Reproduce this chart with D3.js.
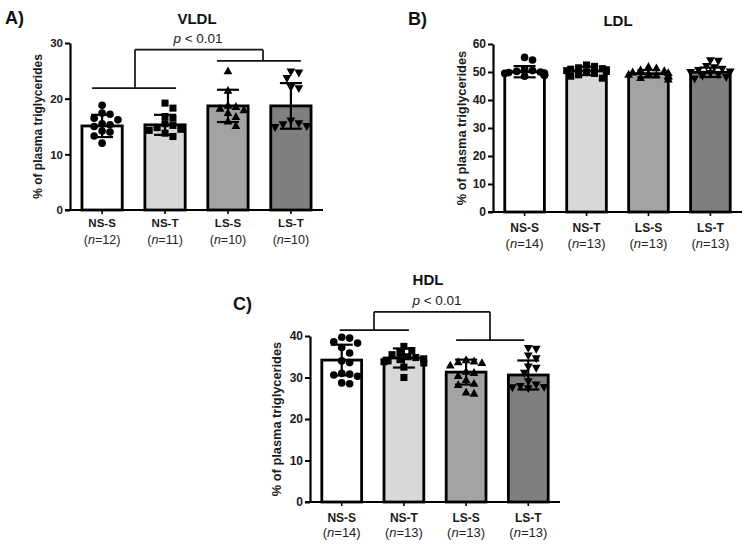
<!DOCTYPE html>
<html>
<head>
<meta charset="utf-8">
<script src="https://cdn.jsdelivr.net/npm/d3@7"></script>
<style>
  html, body { margin: 0; padding: 0; background: #fff; }
  svg { display: block; font-family: "Liberation Sans", Arial, sans-serif; }
</style>
</head>
<body>
<svg id="chart" width="754" height="551"></svg>
<script>
// ---------------- DATA ----------------
const categories = ["NS-S", "NS-T", "LS-S", "LS-T"];

// VLDL
const vldlN = [12, 11, 10, 10];
const vldlMean = [15.1, 15.3, 18.7, 18.7];
const vldlSD = [2.0, 1.8, 2.9, 4.1];
const vldlNSS = [18.8, 17.4, 17.2, 16.5, 16.2, 15.5, 15.3, 15.0, 14.2, 14.0, 13.3, 12.0];
const vldlNST = [19.2, 18.3, 16.8, 16.5, 15.5, 15.2, 14.8, 14.5, 14.3, 13.8, 13.2];
const vldlLSS = [25.0, 21.5, 18.8, 18.6, 18.3, 18.0, 17.5, 16.8, 16.0, 15.2];
const vldlLST = [24.8, 24.6, 23.6, 22.0, 21.8, 16.0, 15.5, 15.3, 15.0, 14.8];
const vldlTicks = [0, 10, 20, 30];

// LDL
const ldlN = [14, 13, 13, 13];
const ldlMean = [50.1, 50.4, 49.4, 49.9];
const ldlSD = [2.0, 1.5, 1.3, 1.7];
const ldlNSS = [55.2, 54.3, 51.0, 50.5, 50.2, 50.0, 49.8, 49.5, 49.3, 49.0, 48.8, 48.5, 48.8, 49.6];
const ldlNST = [52.5, 52.0, 51.5, 51.2, 51.0, 50.8, 50.5, 50.2, 50.0, 49.5, 49.0, 48.5, 47.8];
const ldlLSS = [52.0, 51.5, 50.8, 50.5, 50.0, 49.8, 49.5, 49.2, 49.0, 48.8, 48.5, 48.0, 47.5];
const ldlLST = [54.0, 53.8, 52.0, 51.5, 51.0, 50.5, 50.0, 49.8, 49.5, 49.0, 48.5, 48.0, 47.5];
const ldlTicks = [0, 10, 20, 30, 40, 50, 60];

// HDL
const hdlN = [14, 13, 13, 13];
const hdlMean = [34.2, 34.7, 31.3, 30.6];
const hdlSD = [3.7, 2.3, 3.0, 3.5];
const hdlNSS = [39.7, 39.5, 38.6, 38.3, 37.2, 35.9, 34.0, 33.6, 31.0, 30.8, 30.6, 30.3, 28.7, 28.5];
const hdlNST = [37.5, 36.5, 36.0, 35.5, 35.0, 34.8, 34.5, 34.3, 34.0, 33.8, 33.5, 32.5, 30.0];
const hdlLSS = [34.3, 34.0, 33.8, 33.6, 33.0, 31.5, 31.2, 30.5, 29.5, 28.6, 28.3, 26.5, 26.2];
const hdlLST = [37.0, 36.8, 35.2, 34.5, 32.5, 32.2, 31.0, 29.0, 28.2, 27.8, 27.6, 27.5, 27.3];
const hdlTicks = [0, 10, 20, 30, 40];

const pLabel = "< 0.01";
const yLabel = "% of plasma triglycerides";

// ---------------- STYLE ----------------
const fills = ["#ffffff", "#d8d8d8", "#a3a3a6", "#7f7f7f"];
const symbols = [d3.symbolCircle, d3.symbolSquare, "tri-up", "tri-down"];

const svg = d3.select("#chart");

function drawPanel(cfg) {
  const g = svg.append("g");
  const y = d3.scaleLinear().domain(cfg.domain).range([cfg.y0, cfg.y1]);
  const x = d3.scaleBand().domain(categories).range([cfg.x0, cfg.x1])
              .paddingInner(0.36).paddingOuter(0.19);
  const bw = x.bandwidth();

  // bars
  g.selectAll("rect.bar").data(categories).join("rect")
    .attr("x", d => x(d)).attr("width", bw)
    .attr("y", (d, i) => y(cfg.mean[i]))
    .attr("height", (d, i) => y(0) - y(cfg.mean[i]))
    .attr("fill", (d, i) => fills[i])
    .attr("stroke", "#000").attr("stroke-width", 2.8);

  // points (simple beeswarm)
  const msize = 7.2;
  categories.forEach((c, i) => {
    const cx = x(c) + bw / 2;
    const vals = cfg.points[i].slice().sort((a, b) => b - a);
    const placed = [];
    vals.forEach(v => {
      const py = y(v);
      let off = 0;
      for (let k = 0; k < 40; k++) {
        const cand = k === 0 ? 0 : (k % 2 ? 1 : -1) * Math.ceil(k / 2) * msize * 0.55;
        const ok = placed.every(p => Math.hypot(p.x - cand, p.y - py) >= msize * 0.95);
        if (ok || Math.abs(cand) > bw * 0.62) { off = cand; break; }
      }
      off = Math.max(-bw / 2, Math.min(bw / 2, off));
      placed.push({ x: off, y: py });
    });
    placed.forEach(p => {
      const sym = symbols[i];
      const px = cx + p.x, py = p.y;
      if (sym === "tri-up" || sym === "tri-down") {
        const s = 4.4, dir = sym === "tri-up" ? 1 : -1;
        g.append("path")
          .attr("d", `M${px},${py - dir * s}L${px + s},${py + dir * s * 0.8}L${px - s},${py + dir * s * 0.8}Z`)
          .attr("fill", "#000");
      } else {
        g.append("path")
          .attr("d", d3.symbol().type(sym).size(sym === d3.symbolCircle ? 46 : 50)())
          .attr("transform", `translate(${px},${py})`)
          .attr("fill", "#000");
      }
    });
  });

  // error bars
  categories.forEach((c, i) => {
    const cx = x(c) + bw / 2;
    const top = y(cfg.mean[i] + cfg.sd[i]), bot = y(cfg.mean[i] - cfg.sd[i]);
    g.append("line").attr("x1", cx).attr("x2", cx).attr("y1", top).attr("y2", bot)
      .attr("stroke", "#000").attr("stroke-width", 2.2);
    [top, bot].forEach(yy => g.append("line")
      .attr("x1", cx - 11).attr("x2", cx + 11).attr("y1", yy).attr("y2", yy)
      .attr("stroke", "#000").attr("stroke-width", 2.2));
  });

  // y axis
  const yAxis = d3.axisLeft(y).tickValues(cfg.ticks).tickSize(5).tickPadding(2).tickSizeOuter(0);
  const ya = g.append("g").attr("transform", `translate(${cfg.x0},0)`).call(yAxis);
  ya.select(".domain").attr("stroke-width", 2.2);
  ya.selectAll(".tick line").attr("stroke-width", 2);
  ya.selectAll("text").attr("font-size", cfg.fs).attr("font-weight", "bold")
    .attr("font-family", "Liberation Sans, Arial, sans-serif").attr("fill", "#1a1a1a");

  // x axis
  const xAxis = d3.axisBottom(x).tickSize(4).tickSizeOuter(0).tickFormat("");
  const xa = g.append("g").attr("transform", `translate(0,${cfg.y0})`).call(xAxis);
  xa.select(".domain").attr("stroke-width", 2.2).attr("d", `M${cfg.x0 - 5},0H${cfg.x1}`);
  xa.selectAll(".tick line").attr("stroke-width", 1.6);

  // category labels
  categories.forEach((c, i) => {
    const cx = x(c) + bw / 2;
    g.append("text").attr("x", cx).attr("y", cfg.y0 + cfg.lab1)
      .attr("text-anchor", "middle").attr("font-size", cfg.fs).attr("font-weight", "bold")
      .attr("fill", "#1a1a1a").text(c);
    const t = g.append("text").attr("x", cx).attr("y", cfg.y0 + cfg.lab2)
      .attr("text-anchor", "middle").attr("font-size", cfg.fs + 1).attr("fill", "#222");
    t.append("tspan").text("(");
    t.append("tspan").attr("font-style", "italic").text("n");
    t.append("tspan").text("=" + cfg.n[i] + ")");
  });

  // y label
  g.append("text")
    .attr("transform", `translate(${cfg.ylx},${(cfg.y0 + cfg.y1) / 2 + cfg.yly}) rotate(-90)`)
    .attr("text-anchor", "middle").attr("font-size", cfg.ylfs).attr("font-weight", "bold")
    .attr("fill", "#1a1a1a").text(yLabel);

  // title and panel letter
  g.append("text").attr("x", cfg.tx).attr("y", cfg.ty).attr("text-anchor", "middle")
    .attr("font-size", 15).attr("font-weight", "bold").attr("fill", "#111").text(cfg.title);
  g.append("text").attr("x", cfg.lx).attr("y", cfg.ly)
    .attr("font-size", 18).attr("font-weight", "bold").attr("fill", "#111").text(cfg.letter);

  // significance bracket
  if (cfg.br) {
    const b = cfg.br;
    const line = (x1, y1, x2, y2) => g.append("line").attr("x1", x1).attr("y1", y1)
      .attr("x2", x2).attr("y2", y2).attr("stroke", "#111").attr("stroke-width", 1.7);
    const cA = x(categories[0]) + bw / 2, cB = x(categories[1]) + bw / 2;
    const cC = x(categories[2]) + bw / 2, cD = x(categories[3]) + bw / 2;
    const yl = y(b.left), yr = y(b.right), yt = y(b.top);
    line(cA + b.lo[0], yl, cB + b.lo[1], yl);
    line(cC + b.ro[0], yr, cD + b.ro[1], yr);
    line(b.ux[0], yt, b.ux[1], yt);
    line(b.ux[0], yt, b.ux[0], yl);
    line(b.ux[1], yt, b.ux[1], yr);
    const t = g.append("text").attr("x", b.px).attr("y", b.py)
      .attr("text-anchor", "middle").attr("font-size", 13.5).attr("fill", "#222");
    t.append("tspan").attr("font-style", "italic").text("p");
    t.append("tspan").text(" " + pLabel);
  }
}

drawPanel({
  domain: [0, 30], ticks: vldlTicks, y0: 210, y1: 43, x0: 70, x1: 323,
  mean: vldlMean, sd: vldlSD, n: vldlN, points: [vldlNSS, vldlNST, vldlLSS, vldlLST],
  fs: 11.5, lab1: 17, lab2: 34, ylx: 42, yly: 0, ylfs: 12,
  title: "VLDL", tx: 197, ty: 24, letter: "A)", lx: 5, ly: 24,
  br: { left: 21.9, right: 26.8, top: 28.8, lo: [-10, 11], ro: [-11, 10], ux: [135, 263], px: 198, py: 43 }
});

drawPanel({
  domain: [0, 60], ticks: ldlTicks, y0: 212, y1: 44, x0: 493, x1: 742,
  mean: ldlMean, sd: ldlSD, n: ldlN, points: [ldlNSS, ldlNST, ldlLSS, ldlLST],
  fs: 12, lab1: 20, lab2: 36, ylx: 466, yly: 0, ylfs: 12.8,
  title: "LDL", tx: 618, ty: 26, letter: "B)", lx: 408, ly: 25
});

drawPanel({
  domain: [0, 40], ticks: hdlTicks, y0: 502, y1: 336, x0: 310, x1: 560,
  mean: hdlMean, sd: hdlSD, n: hdlN, points: [hdlNSS, hdlNST, hdlLSS, hdlLST],
  fs: 12, lab1: 20, lab2: 35, ylx: 281, yly: 0, ylfs: 12.8,
  title: "HDL", tx: 428, ty: 285, letter: "C)", lx: 233, ly: 310,
  br: { left: 41.4, right: 39.0, top: 45.8, lo: [-2, 5], ro: [-10, -4], ux: [374, 490], px: 437, py: 305 }
});
</script>
</body>
</html>
